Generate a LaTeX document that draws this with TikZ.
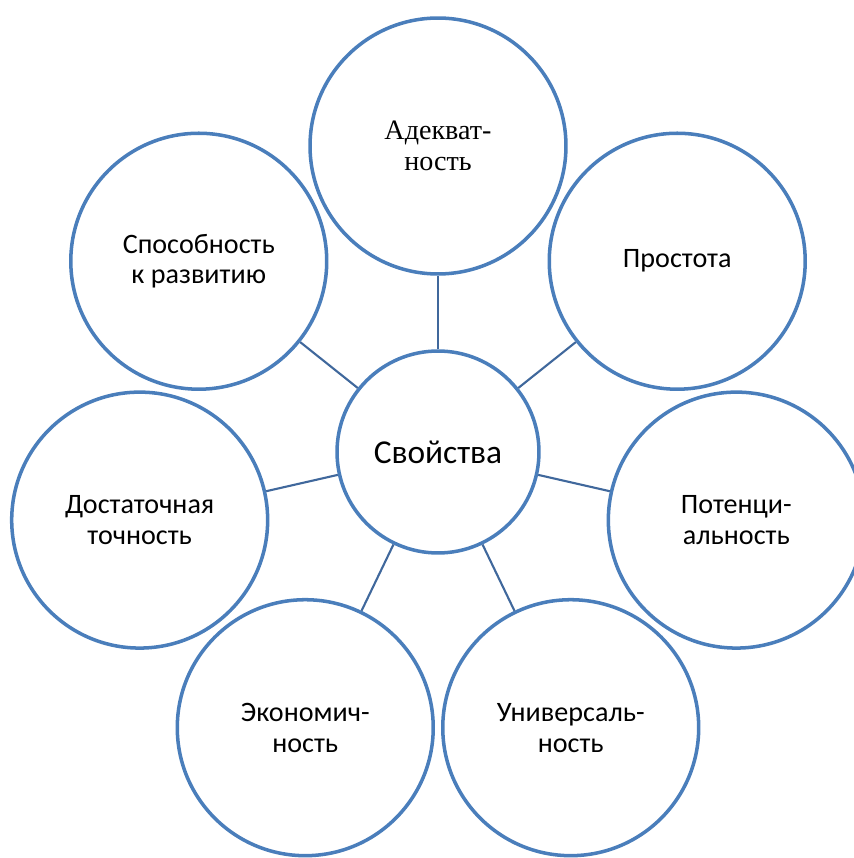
\documentclass[tikz,border=0pt]{standalone}
\usepackage{fontspec}
\setmainfont{Carlito}
\newfontfamily\tnr{Liberation Serif}
\definecolor{ln}{RGB}{74,126,187}
\definecolor{wr}{RGB}{64,104,156}
\tikzset{ob/.style={circle,draw=ln,line width=2pt,fill=white,minimum size=5.12cm,inner sep=0pt,
  align=center,font=\fontsize{16}{17.6}\selectfont},
 cb/.style={ob,minimum size=4.04cm,font=\fontsize{19}{22}\selectfont},
 wire/.style={draw=wr,line width=1.2pt}}
\begin{document}
\begin{tikzpicture}[x=.02cm,y=.02cm]
\clip(-438,-406)rectangle(416,452);
\node[cb](sv) at(0,0){Свойства};
\node[ob,font=\tnr\fontsize{16}{18}\selectfont](ad) at(90:306){Адекват-\\ность};
\node[ob](pr) at(38.57:306){Простота};
\node[ob](pt) at(-12.86:306){Потенци-\\альность};
\node[ob](un) at(-64.29:306){Универсаль-\\ность};
\node[ob](ek) at(-115.71:306){Экономич-\\ность};
\node[ob](dt) at(-167.14:306){Достаточная\\точность};
\node[ob](sp) at(141.43:306){Способность\\к развитию};
\foreach \n in {ad,pr,pt,un,ek,dt,sp}{\draw[wire](sv)--(\n);}
\end{tikzpicture}
\end{document}
